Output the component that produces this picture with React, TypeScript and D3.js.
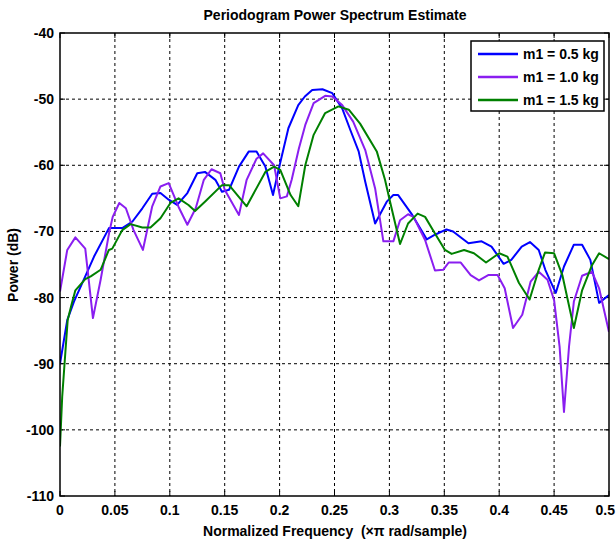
import React from "react";
import * as d3 from "d3";

// values, frequency in x pi rad/sample, power in dB
const blueFreq = [0, 0.0066, 0.0127, 0.023, 0.031, 0.0446, 0.0567, 0.066, 0.075, 0.084, 0.0915, 0.099, 0.1067, 0.116, 0.125, 0.132, 0.1415, 0.1475, 0.154, 0.163, 0.172, 0.179, 0.187, 0.194, 0.199, 0.208, 0.217, 0.223, 0.2297, 0.239, 0.248, 0.257, 0.2645, 0.272, 0.278, 0.287, 0.2976, 0.3036, 0.308, 0.32, 0.334, 0.3415, 0.352, 0.358, 0.372, 0.384, 0.393, 0.404, 0.411, 0.4205, 0.428, 0.436, 0.442, 0.4515, 0.459, 0.468, 0.4755, 0.483, 0.491, 0.5];
const bluePower = [-90, -83.4, -80.6, -76.8, -73.8, -69.5, -69.5, -68.5, -66.5, -64.3, -64.2, -65.2, -66, -64.2, -61.2, -61, -62.2, -64, -63.7, -60.2, -57.9, -57.9, -60.2, -64.5, -60.7, -54.4, -50.9, -49.6, -48.6, -48.5, -49.1, -51.4, -54.7, -57.9, -62.5, -68.8, -65.5, -64.5, -64.5, -67.3, -71.2, -70.5, -69.7, -70, -71.8, -71.5, -72.3, -74.9, -74.3, -72.3, -71.6, -72.8, -75.8, -79.3, -75.3, -72, -72, -74.3, -80.8, -79.6];

const purpleFreq = [0, 0.0066, 0.014, 0.023, 0.03, 0.037, 0.045, 0.048, 0.054, 0.06, 0.067, 0.0755, 0.084, 0.0915, 0.099, 0.108, 0.116, 0.1236, 0.131, 0.138, 0.146, 0.15, 0.163, 0.17, 0.179, 0.185, 0.195, 0.2006, 0.2066, 0.211, 0.2175, 0.2234, 0.231, 0.2415, 0.248, 0.257, 0.267, 0.278, 0.287, 0.2945, 0.3036, 0.3097, 0.317, 0.322, 0.3325, 0.3415, 0.349, 0.354, 0.365, 0.374, 0.3816, 0.39, 0.3985, 0.405, 0.4126, 0.421, 0.4286, 0.436, 0.444, 0.45, 0.455, 0.459, 0.4636, 0.468, 0.4755, 0.4845, 0.491, 0.5];
const purplePower = [-79.1, -72.8, -70.9, -72.6, -83.1, -77.3, -70, -67.8, -65.7, -66.5, -69.8, -72.8, -66.2, -63.2, -62.7, -66.3, -69, -66.5, -62.2, -60.6, -61.2, -63.7, -67.5, -62.2, -59, -58.2, -60, -65, -64.7, -62.2, -57.5, -53.9, -50.6, -49.5, -49.6, -50.9, -53.4, -57.7, -63.5, -71.5, -71.5, -68.3, -67.4, -67.8, -71.3, -75.9, -75.8, -74.7, -74.7, -76.6, -77.4, -76.6, -76.6, -78.6, -84.6, -82.6, -77.6, -76.1, -77.3, -80.4, -87.4, -97.3, -87.4, -80.6, -76.7, -76.1, -78.6, -85.2];

const greenFreq = [0, 0.002, 0.005, 0.007, 0.01, 0.014, 0.023, 0.028, 0.037, 0.0445, 0.0476, 0.0567, 0.0643, 0.075, 0.0824, 0.0915, 0.1006, 0.108, 0.117, 0.123, 0.132, 0.1475, 0.154, 0.17, 0.187, 0.195, 0.2006, 0.21, 0.217, 0.2234, 0.231, 0.2415, 0.2536, 0.263, 0.2733, 0.2885, 0.296, 0.3006, 0.3097, 0.317, 0.3257, 0.3325, 0.3415, 0.3506, 0.3567, 0.368, 0.377, 0.388, 0.4, 0.4075, 0.418, 0.4277, 0.436, 0.4417, 0.45, 0.4575, 0.468, 0.4755, 0.4845, 0.491, 0.5];
const greenPower = [-102.5, -95, -88, -83.4, -81.4, -78.9, -77.2, -76.8, -75.8, -72.8, -72.6, -69.8, -68.9, -69.4, -69.4, -68, -65.7, -65, -66, -66.9, -65.5, -63, -63, -66.2, -61, -60.2, -60.7, -64.5, -66.2, -60, -55.4, -52.1, -51.1, -51.6, -53.7, -57.9, -62.2, -65.5, -71.9, -68.8, -67.3, -67.8, -70.3, -72.8, -73.4, -72.8, -73.3, -74.7, -73.3, -73.8, -77.8, -80.3, -75.8, -73.2, -73.3, -76.6, -84.6, -78.9, -75.1, -73.3, -74.2];

const seriesNames = ["m1 = 0.5 kg", "m1 = 1.0 kg", "m1 = 1.5 kg"];
const seriesColors = ["#0000ff", "#8a1ef0", "#008000"];
const xTicks = [0, 0.05, 0.1, 0.15, 0.2, 0.25, 0.3, 0.35, 0.4, 0.45, 0.5];
const yTicks = [-40, -50, -60, -70, -80, -90, -100, -110];

const W = 616;
const H = 543;
const margin = { top: 33, right: 7, bottom: 47, left: 60 };
const FONT = "'Liberation Sans Narrow', 'Arial Narrow', 'Liberation Sans', Arial, sans-serif";

export default function App() {
	const iw = W - margin.left - margin.right;
	const ih = H - margin.top - margin.bottom;

	const x = d3.scaleLinear().domain([0, 0.5]).range([0, iw]);
	const y = d3.scaleLinear().domain([-110, -40]).range([ih, 0]);

	const line = d3
		.line<[number, number]>()
		.x((d) => x(d[0]))
		.y((d) => y(d[1]));

	const series = [
		blueFreq.map((f, i) => [f, bluePower[i]] as [number, number]),
		purpleFreq.map((f, i) => [f, purplePower[i]] as [number, number]),
		greenFreq.map((f, i) => [f, greenPower[i]] as [number, number]),
	];

	const legendX = 471 - margin.left;
	const legendY = 41 - margin.top;

	return (
		<svg width={W} height={H} style={{ position: "absolute", left: 0, top: 0, background: "#fff" }} fontFamily={FONT}>
			<text x={335} y={20} textAnchor="middle" fontSize={14} fontWeight="bold">
				Periodogram Power Spectrum Estimate
			</text>
			<g transform={`translate(${margin.left},${margin.top})`}>
				<defs>
					<clipPath id="plot-clip">
						<rect x={0} y={0} width={iw} height={ih} />
					</clipPath>
				</defs>
				{/* grid */}
				{xTicks.slice(1, -1).map((t) => (
					<line key={"gx" + t} x1={x(t)} x2={x(t)} y1={0} y2={ih} stroke="#000" strokeWidth={1} strokeDasharray="3,3" />
				))}
				{yTicks.slice(1, -1).map((t) => (
					<line key={"gy" + t} x1={0} x2={iw} y1={y(t)} y2={y(t)} stroke="#000" strokeWidth={1} strokeDasharray="3,3" />
				))}
				{/* ticks on all four sides */}
				{xTicks.map((t, i) => (
					<g key={"tx" + t}>
						<line x1={x(t)} x2={x(t)} y1={ih} y2={ih - 5} stroke="#000" />
						<line x1={x(t)} x2={x(t)} y1={0} y2={5} stroke="#000" />
						<text
							x={i === xTicks.length - 1 ? x(t) + 6 : x(t)}
							y={ih + 19}
							textAnchor={i === xTicks.length - 1 ? "end" : "middle"}
							fontSize={14}
							fontWeight="bold"
						>
							{t}
						</text>
					</g>
				))}
				{yTicks.map((t) => (
					<g key={"ty" + t}>
						<line x1={0} x2={5} y1={y(t)} y2={y(t)} stroke="#000" />
						<line x1={iw} x2={iw - 5} y1={y(t)} y2={y(t)} stroke="#000" />
						<text x={-6} y={y(t) + 5} textAnchor="end" fontSize={14} fontWeight="bold">
							{t}
						</text>
					</g>
				))}
				<g clipPath="url(#plot-clip)">
					{series.map((s, i) => (
						<path key={i} d={line(s) || ""} fill="none" stroke={seriesColors[i]} strokeWidth={2} strokeLinejoin="round" />
					))}
				</g>
				<rect x={0} y={0} width={iw} height={ih} fill="none" stroke="#000" strokeWidth={1.5} />
				{/* legend */}
				<g transform={`translate(${legendX},${legendY})`}>
					<rect x={0} y={0} width={133} height={70} fill="#fff" stroke="#000" strokeWidth={1.5} />
					{seriesNames.map((name, i) => (
						<g key={name} transform={`translate(0,${13 + i * 23})`}>
							<line x1={7} x2={47} y1={0} y2={0} stroke={seriesColors[i]} strokeWidth={2.5} />
							<text x={52} y={5} fontSize={14} fontWeight="bold">
								{name}
							</text>
						</g>
					))}
				</g>
			</g>
			<text x={335} y={536} textAnchor="middle" fontSize={14} fontWeight="bold" style={{ whiteSpace: "pre" }}>
				{"Normalized Frequency  (×π rad/sample)"}
			</text>
			<text transform="translate(18,265) rotate(-90)" textAnchor="middle" fontSize={14} fontWeight="bold">
				Power (dB)
			</text>
		</svg>
	);
}
